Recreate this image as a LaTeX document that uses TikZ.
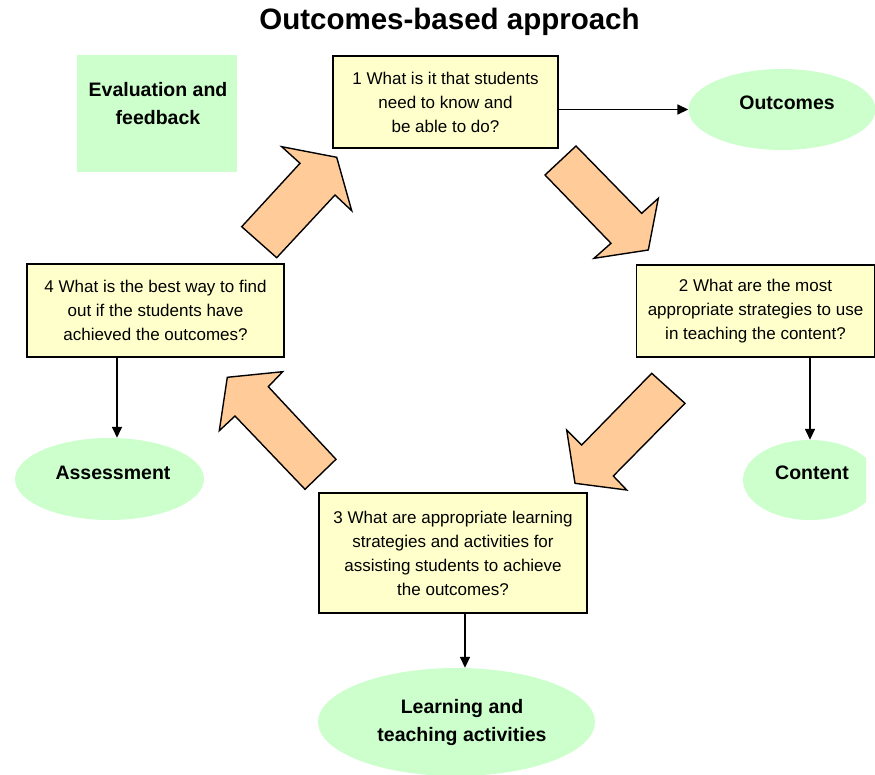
\documentclass[tikz,border=0pt]{standalone}
\usepackage{fontspec}
\setmainfont{Liberation Sans}
\usetikzlibrary{arrows.meta,shapes.geometric}
\definecolor{boxyellow}{HTML}{FFFFCC}
\definecolor{softgreen}{HTML}{CCFFCC}
\definecolor{peach}{HTML}{FFCC99}
\begin{document}
\begin{tikzpicture}[x=1pt,y=-1pt,
  qbox/.style={draw=black,line width=1.6pt,fill=boxyellow,inner sep=0pt,align=center,
    font=\fontsize{17}{24}\selectfont},
  goal/.style={ellipse,fill=softgreen,draw=none,inner sep=0pt,align=center,
    font=\fontsize{19.5}{28}\selectfont\bfseries},
  conn/.style={line width=1.6pt,-{Triangle[length=11pt,width=10pt]}},
  bigarrow/.style={fill=peach,draw=black,line width=1.4pt,line join=miter}]
\useasboundingbox (0,0) rectangle (875,775);

\node[font=\fontsize{29.5}{34}\selectfont\bfseries] (title) at (449.5,22) {Outcomes-based approach};

\node[fill=softgreen,minimum width=160pt,minimum height=117pt,inner sep=0pt] (evalbox) at (157,113.5) {};
\node[font=\fontsize{19.5}{28}\selectfont\bfseries,align=center] (evaltext) at (158,104) {Evaluation and\\feedback};

\node[qbox,minimum width=225pt,minimum height=92pt] (q1) at (445.5,102)
  {1 What is it that students\\need to know and\\be able to do?};
\node[qbox,minimum width=238pt,minimum height=92pt] (q2) at (755.5,311)
  {2 What are the most\\appropriate strategies to use\\in teaching the content?};
\node[qbox,minimum width=268pt,minimum height=120pt] (q3) at (453,553)
  {3 What are appropriate learning\\strategies and activities for\\assisting students to achieve\\the outcomes?};
\node[qbox,minimum width=257pt,minimum height=93pt] (q4) at (155.5,310.5)
  {4 What is the best way to find\\out if the students have\\achieved the outcomes?};

\node[goal,minimum width=187pt,minimum height=81pt] (outc) at (782,109.5) {};
\node[font=\fontsize{19.5}{28}\selectfont\bfseries] (outct) at (787,103) {Outcomes};

\begin{scope}
\clip (0,0) rectangle (866,775);
\node[goal,minimum width=134pt,minimum height=80pt] (cont) at (810,480) {};
\end{scope}
\node[font=\fontsize{19.5}{28}\selectfont\bfseries] (contt) at (812,473) {Content};

\node[goal,minimum width=189pt,minimum height=82pt] (assess) at (109.5,479) {};
\node[font=\fontsize{19.5}{28}\selectfont\bfseries] (assesst) at (113,473) {Assessment};

\node[goal,minimum width=277pt,minimum height=108pt] (learn) at (456.5,722) {};
\node[font=\fontsize{19.5}{28}\selectfont\bfseries,align=center] (learnt) at (462,722) {Learning and\\teaching activities};

\draw[conn] (q1.east |- outc.west) -- (outc.west);
\draw[conn] (q2.south -| cont.north) -- (cont.north);
\draw[conn] ([xshift=12pt]q3.south) -- ([xshift=12pt]q3.south |- learn.north);
\draw[conn] ([xshift=-38.5pt]q4.south) -- ([xshift=-38.5pt]q4.south |- assess.north);

% big block arrows
\draw[bigarrow] (241.7,226.7) -- (276.7,257.7) -- (335,195) -- (351.7,210.7) -- (336.7,157.3)
  -- (281.7,146.7) -- (300,163.3) -- cycle;
\draw[bigarrow] (576,146) -- (545,175) -- (611,243.3) -- (594,258.3) -- (648.3,250)
  -- (658.3,198.3) -- (641.7,213.3) -- cycle;
\draw[bigarrow] (651.7,373.3) -- (685,403.3) -- (613.3,476) -- (626.7,490) -- (575,483.3)
  -- (566.7,430) -- (581.7,445) -- cycle;
\draw[bigarrow] (305,489.3) -- (336,459.3) -- (268.3,386.7) -- (282.7,371.7) -- (227.3,377.3)
  -- (219.3,430.7) -- (235,416) -- cycle;
\end{tikzpicture}
\end{document}
